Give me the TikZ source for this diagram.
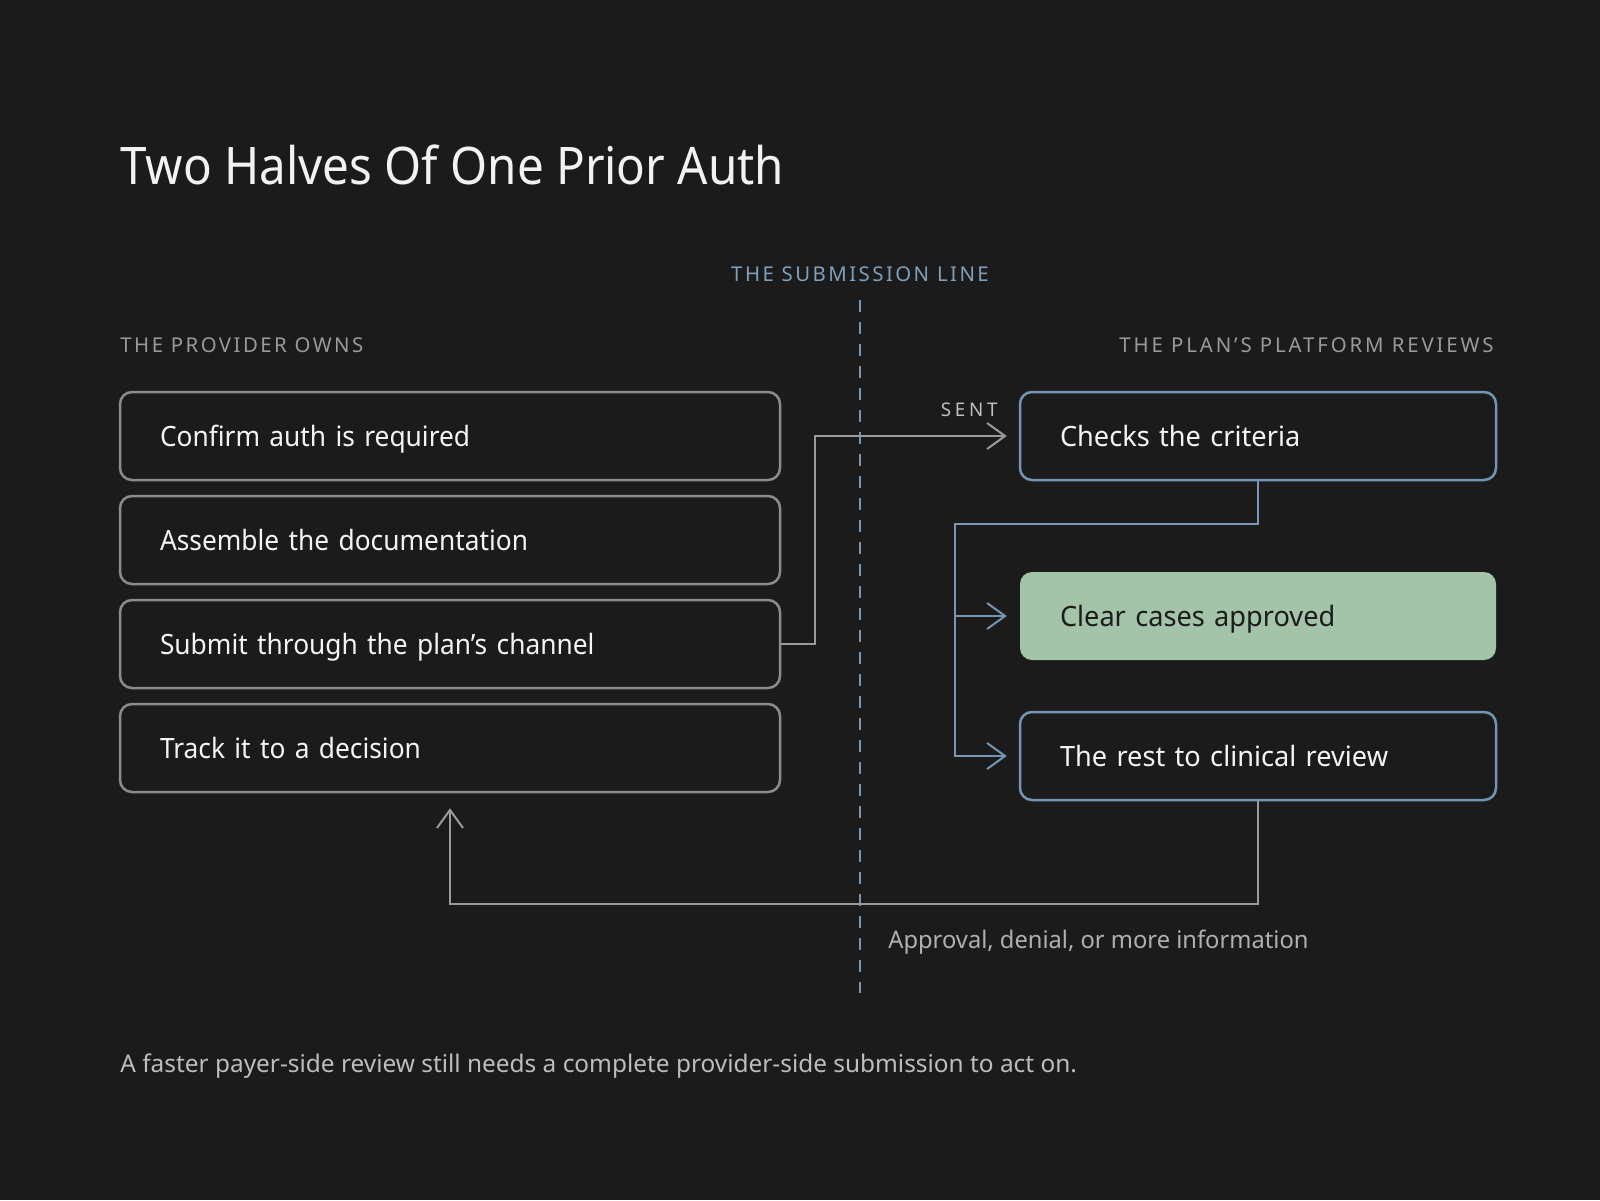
\documentclass[tikz,border=0pt]{standalone}
\usepackage{fontspec}
\setmainfont{Noto Sans}
\usetikzlibrary{arrows.meta}
\definecolor{bg}{HTML}{1B1B1B}
\definecolor{titlec}{HTML}{F2F2F2}
\definecolor{boxtext}{HTML}{F4F4F4}
\definecolor{lgray}{HTML}{8C8C8C}
\definecolor{cgray}{HTML}{9A9A9A}
\definecolor{labgray}{HTML}{9A9A9A}
\definecolor{bluec}{HTML}{7596B4}
\definecolor{bluetext}{HTML}{7F9FBA}
\definecolor{greenfill}{HTML}{A3C4A8}
\definecolor{greentext}{HTML}{1C1C1C}
\definecolor{foot}{HTML}{BDBDBD}
\definecolor{appr}{HTML}{B0B0B0}
\definecolor{sentc}{HTML}{C0C0C0}
\tikzset{
  lbox/.style={draw=lgray, line width=1.25pt, rounded corners=6pt, fill=bg,
    minimum height=44pt, inner xsep=20pt, text width=290pt, align=left,
    text height=10pt, text depth=0pt, text=boxtext,
    font=\fontsize{14}{16}\selectfont\addfontfeature{FakeStretch=0.94}},
  rbox/.style={lbox, draw=bluec, text width=198pt,
    font=\fontsize{14}{16}\selectfont\addfontfeature{FakeStretch=0.97}},
  gbox/.style={rbox, draw=none, fill=greenfill, text=greentext},
  garrow/.style={-{Straight Barb[length=9pt,width=13pt,line width=1pt]}},
  gconn/.style={draw=cgray, line width=1.1pt},
  bconn/.style={draw=bluec, line width=1.1pt},
  caplab/.style={inner sep=0pt, font=\fontsize{10.2}{12}\selectfont\addfontfeature{LetterSpace=12}},
}
\begin{document}
\begin{tikzpicture}[x=0.5pt,y=-0.5pt]
\fill[bg] (0,0) rectangle (1600,1200);
\useasboundingbox (0,0) rectangle (1600,1200);

% title
\node[anchor=base west, inner sep=0pt, text=titlec, font=\fontsize{25.9}{30}\selectfont\addfontfeature{FakeStretch=0.918}] (title) at (120,184) {Two Halves Of One Prior Auth};

% section labels
\node[caplab, anchor=base, text=bluetext] (sublab) at (860,281) {THE SUBMISSION LINE};
\node[caplab, anchor=base west, text=labgray] (provlab) at (120,352) {THE PROVIDER OWNS};
\node[caplab, anchor=base east, text=labgray, font=\fontsize{10.2}{12}\selectfont\addfontfeature{LetterSpace=14}] (planlab) at (1494,352) {THE PLAN’S PLATFORM REVIEWS};

% submission line
\coordinate (lineTop) at (860,300);
\coordinate (lineBot) at (860,993);
\draw[bluec, line width=1pt, dash pattern=on 6pt off 5pt] (lineTop) -- (lineBot);

% provider boxes
\node[lbox] (b1) at (450,436) {Confirm auth is required};
\node[lbox] (b2) at (450,540) {Assemble the documentation};
\node[lbox] (b3) at (450,644) {Submit through the plan’s channel};
\node[lbox] (b4) at (450,748) {Track it to a decision};

% plan boxes
\node[rbox] (r1) at (1258,436) {Checks the criteria};
\node[gbox] (r2) at (1258,616) {Clear cases approved};
\node[rbox] (r3) at (1258,756) {The rest to clinical review};

% sent connector
\coordinate (sendx) at (815,644);
\draw[gconn, garrow, shorten >=6pt] (b3.east) -- (sendx) |- (r1.west);
\node[caplab, anchor=base east, text=sentc, font=\fontsize{9.4}{11}\selectfont\addfontfeature{LetterSpace=20}] (sent) at (998,416) {SENT};

% branch connectors
\coordinate (brTop) at (955,524);
\coordinate (brBot) at (955,756);
\coordinate (brMid) at (955,616);
\draw[bconn, garrow, shorten >=6pt] (r1.south) |- (brTop) -- (brBot) -- (r3.west);
\draw[bconn, garrow, shorten >=6pt] (brMid) -- (r2.west);

% return connector
\coordinate (ret) at (1258,904);
\draw[gconn, garrow, shorten >=7.5pt] (r3.south) -- (ret) -| (b4.south);
\node[anchor=base west, inner sep=0pt, text=appr, font=\fontsize{12.1}{14}\selectfont\addfontfeature{FakeStretch=0.98}] (apprlab) at (888,948) {Approval, denial, or more information};

% footer
\node[anchor=base west, inner sep=0pt, text=foot, font=\fontsize{12.2}{14}\selectfont] (footer) at (120,1072) {A faster payer-side review still needs a complete provider-side submission to act on.};
\end{tikzpicture}
\end{document}
